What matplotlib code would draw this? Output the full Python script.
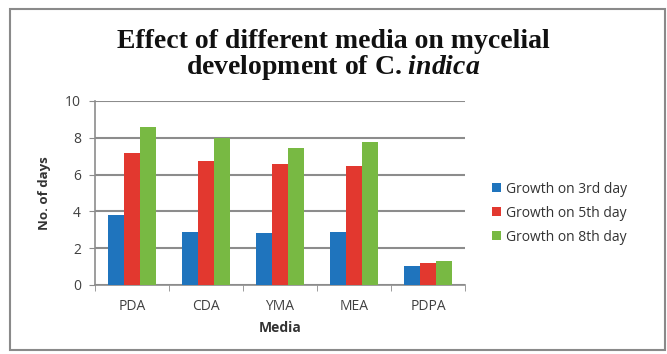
import numpy as np
import matplotlib.pyplot as plt
from matplotlib.patches import Rectangle

media = ["PDA", "CDA", "YMA", "MEA", "PDPA"]
day3 = [3.8, 2.9, 2.8, 2.9, 1.05]
day5 = [7.2, 6.75, 6.55, 6.45, 1.2]
day8 = [8.6, 8.0, 7.45, 7.75, 1.3]
labels = ["Growth on 3rd day", "Growth on 5th day", "Growth on 8th day"]
colors = ["#1f74bd", "#e2382f", "#78b943"]

plt.rcParams["mathtext.fontset"] = "custom"
plt.rcParams["mathtext.it"] = "Liberation Serif:bold:italic"
plt.rcParams["mathtext.rm"] = "Liberation Serif:bold"

fig = plt.figure(figsize=(6.67, 3.54), dpi=100)
ax = fig.add_axes([95 / 667, 1 - 285 / 354, 370 / 667, 184 / 354])

# outer frame of the chart
fig.patches.append(Rectangle((10 / 667, 4 / 354), 655 / 667, 341 / 354,
                             transform=fig.transFigure, fill=False,
                             edgecolor="#8a8a8a", linewidth=1.5))

x = np.arange(len(media))
w = 0.217
for i, (vals, lab, c) in enumerate(zip([day3, day5, day8], labels, colors)):
    ax.bar(x + (i - 1) * w, vals, w, color=c, label=lab, zorder=3)

ax.set_xlim(-0.5, len(media) - 0.5)
ax.set_ylim(0, 10)
ax.set_yticks(range(0, 11, 2))
ax.set_xticks(x)
ax.set_xticklabels(media)
ax.set_xticks(np.arange(-0.5, len(media)), minor=True)
ax.yaxis.grid(True, color="#8c8c8c", linewidth=1.5, zorder=0)
for s in ["top", "right"]:
    ax.spines[s].set_visible(False)
for s in ["left", "bottom"]:
    ax.spines[s].set_color("#8c8c8c")
    ax.spines[s].set_linewidth(1.2)
ax.tick_params(axis="x", which="major", length=0, pad=10)
ax.tick_params(axis="x", which="minor", length=4, color="#8c8c8c")
ax.tick_params(axis="y", length=4, color="#8c8c8c", pad=6)
ax.tick_params(labelsize=10, labelcolor="#404040")
for t in ax.get_xticklabels() + ax.get_yticklabels():
    t.set_family("Open Sans")

ax.set_xlabel("Media", fontsize=10, fontweight="bold", family="Open Sans",
              color="#333333", labelpad=5)
ax.set_ylabel("No. of days", fontsize=9.5, fontweight="bold", family="Open Sans",
              color="#333333", labelpad=10)

fig.text(0.5, 1 - 41 / 354, "Effect of different media on mycelial",
         ha="center", va="center", fontsize=20, fontweight="bold",
         family="Liberation Serif", color="#111111")
fig.text(0.5, 1 - 67 / 354, r"development of C. $\mathit{indica}$",
         ha="center", va="center", fontsize=20, fontweight="bold",
         family="Liberation Serif", color="#111111")

leg = ax.legend(loc="center left", bbox_to_anchor=(1.04, 0.39), frameon=False,
                prop={"family": "Open Sans", "size": 10},
                handlelength=0.6, handleheight=0.6, handletextpad=0.4,
                labelspacing=0.65)
for t in leg.get_texts():
    t.set_color("#333333")

fig.savefig("out.png", dpi=100)
